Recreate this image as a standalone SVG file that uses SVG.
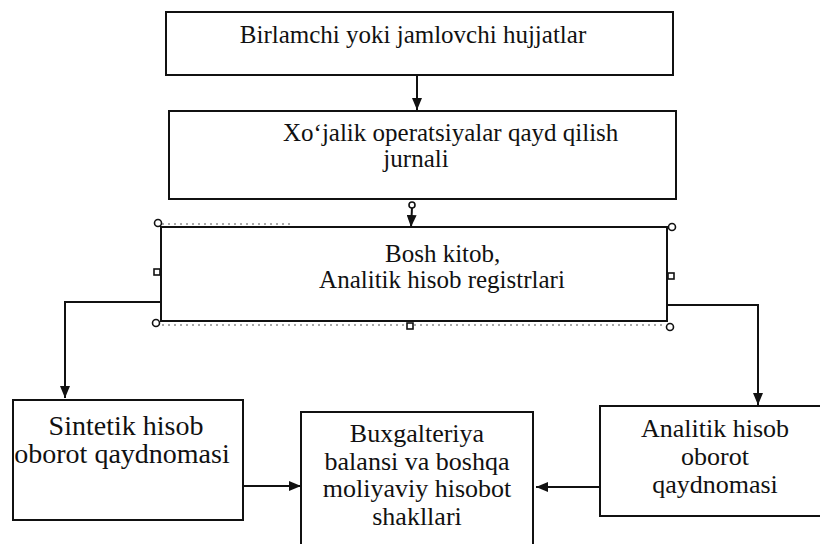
<svg xmlns="http://www.w3.org/2000/svg" width="820" height="544" viewBox="0 0 820 544">
  <defs>
    <marker id="arrow" viewBox="0 0 12 10" refX="12" refY="5" markerWidth="12" markerHeight="10" markerUnits="userSpaceOnUse" orient="auto">
      <path d="M0,0 L12,5 L0,10 Z" fill="#111"/>
    </marker>
    <style>
      .box { fill: #fff; stroke: #111; stroke-width: 2; }
      .t { fill: #111; }
      .t25 { font-size: 25px; }
      .t26 { font-size: 26px; }
      .t28 { font-size: 28px; }
      .link { fill: none; stroke: #111; stroke-width: 2; }
      .handle { fill: #fff; stroke: #111; stroke-width: 1.6; }
      .dots { fill: none; stroke: #555; stroke-width: 1; stroke-dasharray: 2 4; }
    </style>
  </defs>

  <rect width="820" height="544" fill="#fff"/>

  <!-- connectors -->
  <g id="connectors">
    <line class="link" x1="417" y1="75" x2="417" y2="110" marker-end="url(#arrow)"/>
    <!-- anchor glyph between journal and ledger -->
    <circle cx="412" cy="205" r="3" fill="none" stroke="#111" stroke-width="1.6"/>
    <line class="link" x1="412" y1="208" x2="411" y2="227" marker-end="url(#arrow)"/>
    <polyline class="link" points="161,302 65,302 65,398" marker-end="url(#arrow)"/>
    <polyline class="link" points="667,305 758,305 758,405" marker-end="url(#arrow)"/>
    <line class="link" x1="243" y1="486" x2="301" y2="486" marker-end="url(#arrow)"/>
    <line class="link" x1="600" y1="487" x2="536" y2="487" marker-end="url(#arrow)"/>
  </g>

  <g id="node-documents" font-family="Times New Roman">
    <rect class="box" x="166" y="12" width="507" height="63"/>
    <text class="t t25" x="413" y="43" text-anchor="middle">Birlamchi yoki jamlovchi hujjatlar</text>
  </g>

  <g id="node-journal" font-family="Times New Roman">
    <rect class="box" x="169" y="111" width="507" height="88"/>
    <text class="t t25" x="283" y="141">Xo‘jalik operatsiyalar qayd qilish</text>
    <text class="t t25" x="416" y="167" text-anchor="middle">jurnali</text>
  </g>

  <g id="node-ledger" font-family="Times New Roman">
    <line class="dots" x1="162" y1="224" x2="290" y2="224"/>
    <line class="dots" x1="162" y1="325" x2="665" y2="325"/>
    <rect class="box" x="161" y="227" width="506" height="94"/>
    <text class="t t25" x="385" y="262">Bosh kitob,</text>
    <text class="t t25" x="442" y="288" text-anchor="middle">Analitik hisob registrlari</text>
    <circle class="handle" cx="158" cy="223" r="3.5"/>
    <circle class="handle" cx="156" cy="323" r="3.5"/>
    <circle class="handle" cx="672" cy="227" r="3.5"/>
    <circle class="handle" cx="670" cy="327" r="3.5"/>
    <rect class="handle" x="154" y="269" width="6" height="6"/>
    <rect class="handle" x="668" y="273" width="6" height="6"/>
    <rect class="handle" x="407" y="323" width="6" height="6"/>
  </g>

  <g id="node-synthetic" font-family="Times New Roman">
    <rect class="box" x="13" y="400" width="230" height="120"/>
    <text class="t t28" x="126" y="435" text-anchor="middle">Sintetik hisob</text>
    <text class="t t28" x="122" y="463" text-anchor="middle">oborot qaydnomasi</text>
  </g>

  <g id="node-balance" font-family="Times New Roman">
    <rect class="box" x="301" y="412" width="232" height="140"/>
    <text class="t t26" x="417" y="442" text-anchor="middle">Buxgalteriya</text>
    <text class="t t26" x="417" y="470" text-anchor="middle">balansi va boshqa</text>
    <text class="t t26" x="417" y="497" text-anchor="middle">moliyaviy hisobot</text>
    <text class="t t26" x="417" y="525" text-anchor="middle">shakllari</text>
  </g>

  <g id="node-analytic" font-family="Times New Roman">
    <rect class="box" x="600" y="406" width="230" height="110"/>
    <text class="t t26" x="715" y="437" text-anchor="middle">Analitik hisob</text>
    <text class="t t26" x="715" y="465" text-anchor="middle">oborot</text>
    <text class="t t26" x="715" y="493" text-anchor="middle">qaydnomasi</text>
  </g>
</svg>
